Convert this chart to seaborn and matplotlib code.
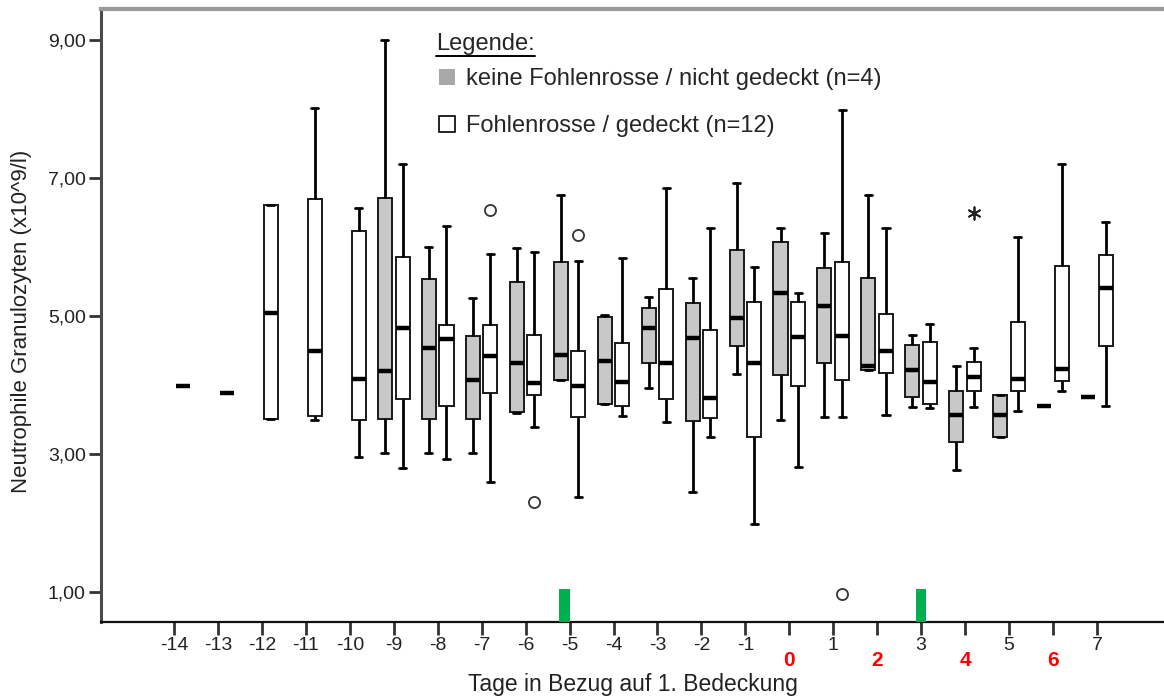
import numpy as np
import pandas as pd
import matplotlib
matplotlib.use("Agg")
import matplotlib.pyplot as plt
import matplotlib.transforms as mtransforms
from matplotlib.patches import Patch, Rectangle
from matplotlib.lines import Line2D
import seaborn as sns

# ---------------- data ----------------
days = ["-14", "-13", "-12", "-11", "-10", "-9", "-8", "-7", "-6", "-5", "-4",
        "-3", "-2", "-1", "0", "1", "2", "3", "4", "5", "6", "7"]
group_names = ["keine Fohlenrosse / nicht gedeckt (n=4)", "Fohlenrosse / gedeckt (n=12)"]

# grey group: keine Fohlenrosse / nicht gedeckt
grey_days = ["-9", "-8", "-7", "-6", "-5", "-4", "-3", "-2", "-1", "0", "1", "2", "3", "4", "5", "6", "7"]
grey_lo  = [3.01, 3.01, 3.01, 3.59, 4.07, 3.72, 3.95, 2.45, 4.16, 3.49, 3.54, 4.22, 3.68, 2.77, 3.24, 3.70, 3.82]
grey_q1  = [3.51, 3.51, 3.51, 3.61, 4.07, 3.73, 4.32, 3.48, 4.56, 4.14, 4.32, 4.22, 3.83, 3.17, 3.24, 3.70, 3.82]
grey_med = [4.21, 4.53, 4.07, 4.32, 4.44, 4.35, 4.82, 4.68, 4.97, 5.33, 5.15, 4.28, 4.22, 3.56, 3.56, 3.70, 3.82]
grey_q3  = [6.71, 5.53, 4.71, 5.49, 5.78, 4.99, 5.12, 5.19, 5.95, 6.07, 5.69, 5.55, 4.58, 3.91, 3.86, 3.70, 3.82]
grey_hi  = [9.00, 6.00, 5.26, 5.98, 6.75, 5.02, 5.27, 5.55, 6.93, 6.27, 6.21, 6.75, 4.72, 4.27, 3.86, 3.70, 3.82]

# white group: Fohlenrosse / gedeckt
white_days = days
white_lo  = [3.98, 3.88, 3.51, 3.49, 2.96, 2.80, 2.93, 2.60, 3.39, 2.37, 3.55, 3.47, 3.24, 1.99, 2.81, 3.53, 3.57, 3.66, 3.68, 3.62, 3.91, 3.70]
white_q1  = [3.98, 3.88, 3.51, 3.55, 3.49, 3.79, 3.69, 3.88, 3.86, 3.54, 3.69, 3.79, 3.52, 3.24, 3.98, 4.07, 4.18, 3.73, 3.92, 3.91, 4.06, 4.56]
white_med = [3.98, 3.88, 5.04, 4.50, 4.08, 4.82, 4.66, 4.42, 4.03, 3.98, 4.05, 4.32, 3.81, 4.32, 4.69, 4.71, 4.50, 4.05, 4.12, 4.09, 4.23, 5.40]
white_q3  = [3.98, 3.88, 6.61, 6.69, 6.23, 5.85, 4.87, 4.87, 4.72, 4.50, 4.61, 5.39, 4.79, 5.21, 5.20, 5.78, 5.03, 4.63, 4.34, 4.92, 5.72, 5.88]
white_hi  = [3.98, 3.88, 6.61, 8.01, 6.57, 7.20, 6.31, 5.90, 5.93, 5.80, 5.84, 6.86, 6.28, 5.71, 5.33, 7.98, 6.27, 4.88, 4.53, 6.15, 7.21, 6.36]

# outliers (circles) and extreme value (star), all in the white group
outlier_days = ["-7", "-6", "-5", "1"]
outlier_vals = [6.54, 2.31, 6.17, 0.97]
extreme_days = ["4"]
extreme_vals = [6.49]

ytick_vals = [1, 3, 5, 7, 9]
ytick_labels = ["1,00", "3,00", "5,00", "7,00", "9,00"]
black_labels = ["-14", "-13", "-12", "-11", "-10", "-9", "-8", "-7", "-6", "-5", "-4",
                "-3", "-2", "-1", "", "1", "", "3", "", "5", "", "7"]
red_labels = ["0", "2", "4", "6"]
marker_days = ["-5", "3"]
marker_top = 1.04

# ---------------- long table ----------------
rows = []
for d, a, b, c, e, f in zip(grey_days, grey_lo, grey_q1, grey_med, grey_q3, grey_hi):
    for v in (a, b, c, e, f):
        rows.append((d, group_names[0], v))
for d, a, b, c, e, f in zip(white_days, white_lo, white_q1, white_med, white_q3, white_hi):
    for v in (a, b, c, e, f):
        rows.append((d, group_names[1], v))
df = pd.DataFrame(rows, columns=["day", "group", "value"])
out_df = pd.DataFrame({"day": outlier_days, "group": group_names[1], "value": outlier_vals})
ext_df = pd.DataFrame({"day": extreme_days, "group": group_names[1], "value": extreme_vals})

# ---------------- figure ----------------
sns.set_style("white")
plt.rcParams["font.family"] = ["Liberation Sans", "DejaVu Sans"]

W, H = 1164, 699
fig = plt.figure(figsize=(W / 100, H / 100), dpi=100)
ax_l, ax_r, ax_t, ax_b = 101, 1164, 9, 622
ax = fig.add_axes([ax_l / W, 1 - ax_b / H, (ax_r - ax_l) / W, (ax_b - ax_t) / H])

box_pal = {group_names[0]: "#c8c8c8", group_names[1]: "white"}
sns.boxplot(data=df, x="day", y="value", hue="group", order=days, hue_order=group_names,
            palette=box_pal, saturation=1, width=0.8, gap=0.2, whis=(0, 100),
            showfliers=False, linecolor="#1a1a1a", linewidth=1.4,
            medianprops=dict(color="black", linewidth=3.2),
            whiskerprops=dict(color="black", linewidth=2.0),
            capprops=dict(color="black", linewidth=2.0),
            legend=False, ax=ax)

sns.stripplot(data=out_df, x="day", y="value", hue="group", order=days, hue_order=group_names,
              dodge=True, jitter=False, palette={g: "white" for g in group_names},
              marker="o", size=8, edgecolor="#333333", linewidth=1.3, legend=False,
              ax=ax, zorder=5)
sns.stripplot(data=ext_df, x="day", y="value", hue="group", order=days, hue_order=group_names,
              dodge=True, jitter=False, palette={g: "#222222" for g in group_names},
              marker=(6, 2, 0), size=9, edgecolor="#222222", linewidth=1.3, legend=False,
              ax=ax, zorder=5)

x0 = (ax_l - 174) / 43.95
x1 = (ax_r - 174) / 43.95
ax.set_xlim(x0, x1)
ax.set_ylim(1 - (ax_b - 592) / 69, 9 + (40 - ax_t) / 69)

# spines
for s in ax.spines.values():
    s.set_visible(True)
ax.spines["right"].set_visible(False)
ax.spines["left"].set_color("#4a4a4a")
ax.spines["left"].set_linewidth(2.2)
ax.spines["bottom"].set_color("#111111")
ax.spines["bottom"].set_linewidth(1.6)
ax.spines["top"].set_color("#9a9a9a")
ax.spines["top"].set_linewidth(3)

# ticks
ax.set_yticks(ytick_vals)
ax.set_yticklabels(ytick_labels)
ax.set_xticks(range(len(days)))
ax.set_xticklabels(black_labels)
ax.tick_params(axis="both", which="major", direction="out", length=9, width=2,
               color="#333333", labelsize=14, labelcolor="#222222", pad=2,
               bottom=True, left=True)

# red labels for even days after 0
tr = mtransforms.blended_transform_factory(ax.transData, fig.transFigure)
for lab in red_labels:
    ax.text(days.index(lab), 1 - 661 / H, lab, transform=tr, ha="center", va="center",
            color="#ff0000", fontsize=15, fontweight="bold")

# green markers on the x axis
GREEN_SHIFT = [-0.12, 0.0]
ylo = ax.get_ylim()[0]
for d, sh in zip(marker_days, GREEN_SHIFT):
    xc = days.index(d) + sh
    ax.add_patch(Rectangle((xc - 0.12, ylo), 0.24, marker_top - ylo, facecolor="#00b050",
                           edgecolor="none", zorder=7, clip_on=False))

# axis labels
ax.set_xlabel("Tage in Bezug auf 1. Bedeckung", fontsize=16.5, color="#222222")
ax.xaxis.set_label_coords(0.5, (H - 685 - (H - ax_b)) / (ax_b - ax_t))
ax.xaxis.label.set_va("center")
ax.set_ylabel("Neutrophile Granulozyten (x10^9/l)", fontsize=16, color="#222222")
ax.yaxis.set_label_coords((22 - ax_l) / (ax_r - ax_l), 0.5 - 6 / (ax_b - ax_t))
ax.yaxis.label.set_va("center")

# legend
handles = [Patch(facecolor="#a8a8a8", edgecolor="none"),
           Patch(facecolor="white", edgecolor="black", linewidth=1.2)]
ax.legend(handles, group_names, loc="upper left", bbox_to_anchor=(439 / W, 1 - 68 / H),
          bbox_transform=fig.transFigure, frameon=False, fontsize=17,
          handlelength=0.68, handleheight=0.68, handletextpad=0.47, labelspacing=1.07,
          borderpad=0, borderaxespad=0)

leg_title = fig.text(436 / W, 1 - 50 / H, "Legende:", fontsize=17, va="baseline", ha="left")
fig.canvas.draw()
bb = leg_title.get_window_extent()
fig.add_artist(Line2D([bb.x0 / W, bb.x1 / W], [(bb.y0 - 1) / H, (bb.y0 - 1) / H],
                      color="black", linewidth=1.4, transform=fig.transFigure))

fig.savefig("out.png", dpi=100)
